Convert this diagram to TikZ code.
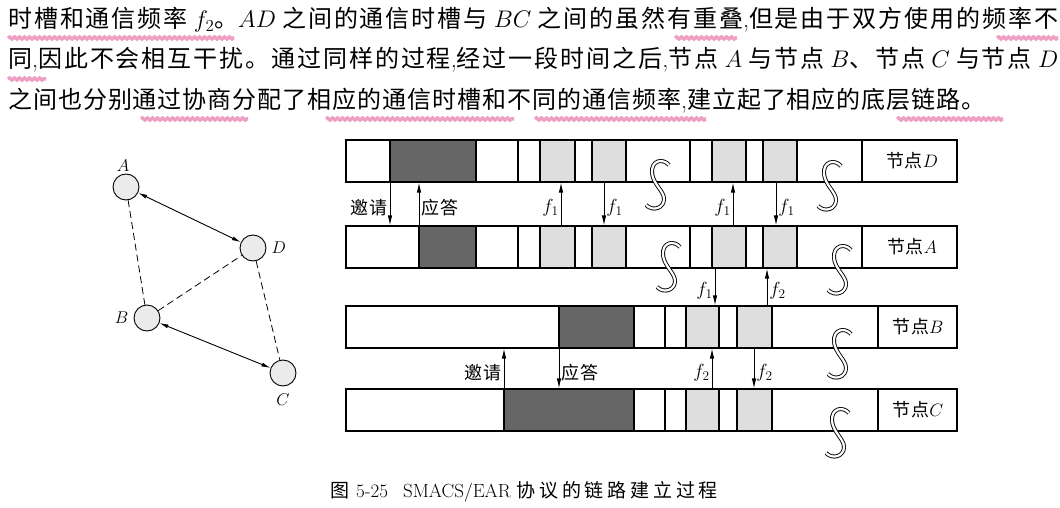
\documentclass[tikz,border=0pt]{standalone}
\usepackage{fix-cm}
\usepackage{fontspec}
\newfontfamily\zhfont[LetterSpace=4]{Noto Sans CJK SC}
\newfontfamily\zhmid[LetterSpace=8]{Noto Sans CJK SC}
\newfontfamily\zhcapfont[LetterSpace=20]{Noto Sans CJK SC}
\usetikzlibrary{positioning,arrows.meta,decorations.pathmorphing}
\definecolor{marker}{RGB}{238,160,196}

\begin{document}
\begin{tikzpicture}[x=1pt,y=-1pt,
    bar/.style={draw,line width=1.1pt,minimum width=611pt,minimum height=42pt,inner sep=0pt},
    darkcell/.style={draw,line width=1.1pt,fill=black!60},
    lightcell/.style={draw,line width=1.1pt,fill=black!13},
    cellline/.style={line width=1.1pt},
    sig/.style={line width=0.9pt,-{Latex[length=10pt,width=4.5pt]}},
    lbl/.style={font=\fontsize{18}{18}\selectfont\zhfont,inner sep=2pt,yshift=-4pt},
    flbl/.style={font=\fontsize{19}{19}\selectfont,inner sep=2pt,yshift=-4pt},
    rowlbl/.style={font=\fontsize{18}{18}\selectfont,inner sep=0pt},
    brk/.style={line width=0.9pt,double=white,double distance=2.2pt},
    stn/.style={circle,draw,line width=0.9pt,fill=black!8,minimum size=26pt,inner sep=0pt},
    glbl/.style={font=\fontsize{17}{17}\selectfont,inner sep=0pt},
    link/.style={line width=0.9pt,{Latex[length=9pt,width=4pt]}-{Latex[length=9pt,width=4pt]}},
    hop/.style={line width=0.8pt,dash pattern=on 7pt off 4pt},
    hilite/.style={marker,line width=3.5pt,decorate,decoration={snake,amplitude=1pt,segment length=5pt}},
    body/.style={anchor=west,font=\fontsize{24}{24}\selectfont,inner sep=0pt}]
\path[fill=white] (0,0) rectangle (1060,508);
\useasboundingbox (0,0) rectangle (1060,508);

% pink marks under the text
\foreach \xa/\xb/\yy in {8/234/38, 675/737/38, 997/1058/38, 8/46/79, 141/248/119, 326/514/119, 535/706/119, 897/1003/119}
    \draw[hilite] (\xa,\yy) -- (\xb,\yy);

% paragraph
\node[body] (line1) at (8,20) {\makebox[1050pt][s]{{\zhmid 时槽和通信频率} $f_2${\zhmid 。}$AD$ {\zhmid 之间的通信时槽与} $BC$ {\zhmid 之间的虽然有重叠},{\zhmid 但是由于双方使用的频率不}}};
\node[body] (line2) at (8,60) {\makebox[1050pt][s]{{\zhmid 同},{\zhmid 因此不会相互干扰。通过同样的过程},{\zhmid 经过一段时间之后},{\zhmid 节点} $A$ {\zhmid 与节点} $B${\zhmid 、节点} $C$ {\zhmid 与节点} $D$}};
\node[body] (line3) at (8,101) {{\zhfont 之间也分别通过协商分配了相应的通信时槽和不同的通信频率},{\zhfont 建立起了相应的底层链路。}};

% network of four nodes
\node[stn] (A) at (126,187) {};
\node[stn] (D) at (253,248) {};
\node[stn] (B) at (147,318) {};
\node[stn] (C) at (283,373) {};
\node[glbl,above=2pt of A,xshift=-3pt] (nA) {$A$};
\node[glbl,right=5pt of D] (nD) {$D$};
\node[glbl,left=5pt of B] (nB) {$B$};
\node[glbl,below=7pt of C] (nC) {$C$};
\draw[link] (A) -- (D);
\draw[link] (B) -- (C);
\draw[hop] (A) -- (B);
\draw[hop] (B) -- (D);
\draw[hop] (D) -- (C);

% time slot bars
\node[bar] (rowD) at (651.5,161) {};
\node[bar] (rowA) at (651.5,247) {};
\node[bar] (rowB) at (651.5,327) {};
\node[bar] (rowC) at (651.5,410) {};

\foreach \yt/\dl in {140/390, 226/419} {
    \draw[darkcell] (\dl,\yt) rectangle (476,\yt+42);
    \foreach \xa/\xb in {540/575, 592/626, 712/746, 763/797}
        \draw[lightcell] (\xa,\yt) rectangle (\xb,\yt+42);
    \foreach \xl in {518, 690, 862}
        \draw[cellline] (\xl,\yt) -- (\xl,\yt+42);
}
\foreach \yt/\dl in {306/559, 389/504} {
    \draw[darkcell] (\dl,\yt) rectangle (634,\yt+42);
    \foreach \xa/\xb in {686/719, 737/772}
        \draw[lightcell] (\xa,\yt) rectangle (\xb,\yt+42);
    \foreach \xl in {665, 878}
        \draw[cellline] (\xl,\yt) -- (\xl,\yt+42);
}

\node[rowlbl] (labD) at (912,161) {{\zhfont 节点}$D$};
\node[rowlbl] (labA) at (912,247) {{\zhfont 节点}$A$};
\node[rowlbl] (labB) at (918,327) {{\zhfont 节点}$B$};
\node[rowlbl] (labC) at (918,410) {{\zhfont 节点}$C$};

% arrow columns
\foreach \n/\x in {inv1/390, ack1/419, fa/561, fb/604, fc/733, fd/776, fe/715, ff/767, inv2/504, ack2/559, fg/712, fh/754}
    \coordinate (\n) at (\x,0);

% D <-> A
\draw[sig] (rowD.south -| inv1) -- (rowA.north -| inv1) node[lbl,midway,left] {邀请};
\draw[sig] (rowA.north -| ack1) -- (rowD.south -| ack1) node[lbl,midway,right] {应答};
\draw[sig] (rowA.north -| fa) -- (rowD.south -| fa) node[flbl,midway,left] {$f_1$};
\draw[sig] (rowD.south -| fb) -- (rowA.north -| fb) node[flbl,midway,right] {$f_1$};
\draw[sig] (rowA.north -| fc) -- (rowD.south -| fc) node[flbl,midway,left] {$f_1$};
\draw[sig] (rowD.south -| fd) -- (rowA.north -| fd) node[flbl,midway,right] {$f_1$};
% A <-> B
\draw[sig] (rowA.south -| fe) -- (rowB.north -| fe) node[flbl,midway,left] {$f_1$};
\draw[sig] (rowB.north -| ff) -- (rowA.south -| ff) node[flbl,midway,right] {$f_2$};
% B <-> C
\draw[sig] (rowC.north -| inv2) -- (rowB.south -| inv2) node[lbl,midway,left] {邀请};
\draw[sig] (rowB.south -| ack2) -- (rowC.north -| ack2) node[lbl,midway,right] {应答};
\draw[sig] (rowC.north -| fg) -- (rowB.south -| fg) node[flbl,midway,left] {$f_2$};
\draw[sig] (rowB.south -| fh) -- (rowC.north -| fh) node[flbl,midway,right] {$f_2$};

% time breaks
\foreach \cx/\cy in {658/185, 830/186, 669/267, 840/270, 840/354, 838/433}
    \draw[brk] (\cx+11,\cy-20) .. controls (\cx+5,\cy-27) and (\cx-7,\cy-25) .. (\cx-6,\cy-12)
        .. controls (\cx-5,\cy-1) and (\cx+6,\cy+6) .. (\cx+6,\cy+14)
        .. controls (\cx+6,\cy+23) and (\cx-5,\cy+27) .. (\cx-12,\cy+20);

% caption
\node[anchor=west,font=\fontsize{19}{19}\selectfont,inner sep=0pt] (caption) at (330,492)
    {{\zhcapfont 图}\hspace{7pt}5-25\hspace{15pt}SMACS/EAR {\zhcapfont 协议的链路建立过程}};

\end{tikzpicture}
\end{document}
